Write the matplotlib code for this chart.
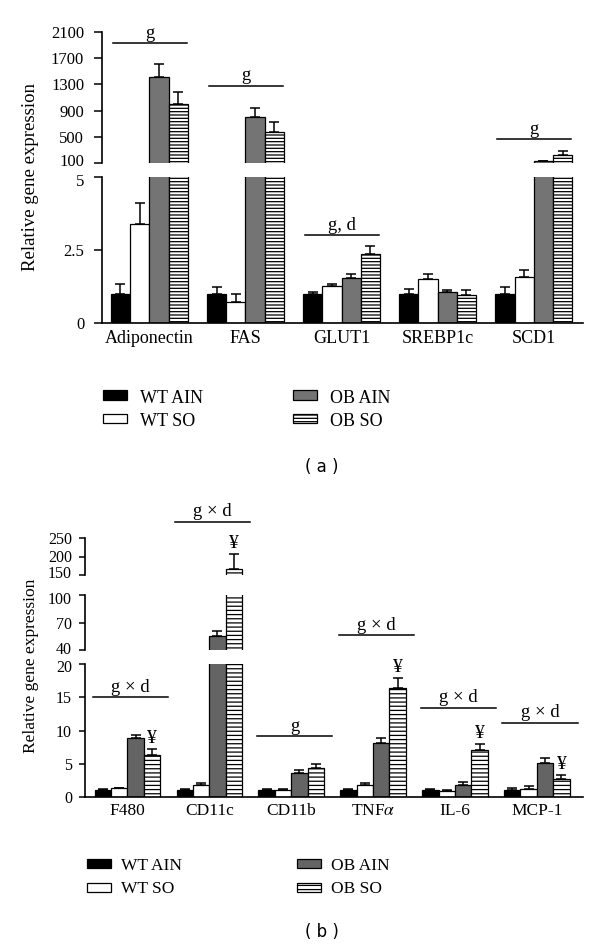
import numpy as np
import matplotlib
matplotlib.use("Agg")
import matplotlib.pyplot as plt
from matplotlib.patches import Rectangle
from matplotlib.ticker import FormatStrFormatter
from matplotlib.transforms import ScaledTranslation

plt.rcParams['font.family'] = ['Liberation Serif', 'DejaVu Serif']
plt.rcParams['mathtext.fontset'] = 'stix'
plt.rcParams['hatch.linewidth'] = 0.9

# ---- data ----
series = ["WT AIN", "WT SO", "OB AIN", "OB SO"]

# panel (a)
genes_a = ["Adiponectin", "FAS", "GLUT1", "SREBP1c", "SCD1"]
a_wt_ain = [1.0, 1.0, 1.0, 1.0, 1.0]
a_wt_so = [3.39, 0.71, 1.28, 1.50, 1.58]
a_ob_ain = [1410, 800, 1.53, 1.07, 125]
a_ob_so = [1000, 570, 2.36, 0.97, 215]
a_err_wt_ain = [0.32, 0.22, 0.07, 0.15, 0.22]
a_err_wt_so = [0.73, 0.27, 0.07, 0.18, 0.24]
a_err_ob_ain = [195, 145, 0.14, 0.07, 10]
a_err_ob_so = [180, 155, 0.29, 0.17, 75]
sig_a_group = [0, 1, 2, 4]
sig_a_text = ["g", "g", "g, d", "g"]
sig_a_y = [1930, 1280, 3.0, 460]

# panel (b)
genes_b = ["F480", "CD11c", "CD11b", r"TNF$\alpha$", "IL-6", "MCP-1"]
b_wt_ain = [1.05, 1.0, 1.05, 1.05, 1.05, 1.05]
b_wt_so = [1.3, 1.76, 1.1, 1.76, 0.9, 1.26]
b_ob_ain = [8.9, 55.3, 3.68, 8.16, 1.76, 5.04]
b_ob_so = [6.3, 166, 4.38, 16.4, 7.05, 2.77]
b_err_wt_ain = [0.1, 0.15, 0.1, 0.15, 0.1, 0.3]
b_err_wt_so = [0.1, 0.35, 0.1, 0.35, 0.2, 0.35]
b_err_ob_ain = [0.4, 5.1, 0.4, 0.65, 0.5, 0.85]
b_err_ob_so = [0.9, 41, 0.56, 1.5, 0.9, 0.6]
yen_b = [True, True, False, True, True, True]
sig_b_text = ["g × d", "g × d", "g", "g × d", "g × d", "g × d"]
sig_b_y = [15.0, 294, 9.1, 56.4, 13.45, 11.2]

W, H = 600, 947
fig = plt.figure(figsize=(W / 100, H / 100), dpi=100)


def px_axes(x0, x1, ytop, ybot):
    return fig.add_axes([x0 / W, 1 - ybot / H, (x1 - x0) / W, (ybot - ytop) / H])


def axis_for(axes, lims, v):
    for ax, (lo, hi) in zip(axes, lims):
        if lo <= v <= hi:
            return ax
    return axes[0]


def nudge_label(ax, idx, dy_px):
    # move one y tick label a little, so labels at the axis break do not collide
    lab = ax.yaxis.get_major_ticks()[idx].label1
    lab.set_transform(lab.get_transform() + ScaledTranslation(0, dy_px / 100, fig.dpi_scale_trans))


def draw_panel(axes, lims, ticks, genes, means, errs, gray, hatch, xlim,
               tick_fs, tick_len, tick_pad, label_fs, label_pad):
    n = len(genes)
    colors = ["black", "white", gray, "white"]
    hatches = [None, None, None, hatch]
    for k, ax in enumerate(axes):
        for j in range(4):
            x = np.arange(n) * 5 + j
            ax.bar(x, means[j], width=1, align="edge", color=colors[j],
                   edgecolor="black", linewidth=0.9, hatch=hatches[j])
            ax.errorbar(x + 0.5, means[j], yerr=[np.zeros(n), errs[j]], fmt="none",
                        ecolor="black", elinewidth=1.1, capsize=3.5, capthick=1.1)
        ax.set_xlim(*xlim)
        ax.set_ylim(*lims[k])
        ax.set_yticks(ticks[k])
        ax.yaxis.set_major_formatter(FormatStrFormatter("%g"))
        ax.tick_params(axis="y", direction="out", length=tick_len, width=1.1,
                       labelsize=tick_fs, pad=tick_pad)
        for s in ["top", "right"]:
            ax.spines[s].set_visible(False)
        ax.spines["left"].set_linewidth(1.2)
        ax.spines["bottom"].set_linewidth(1.2)
        ax.patch.set_alpha(0)
        if k < len(axes) - 1:
            ax.spines["bottom"].set_visible(False)
            ax.set_xticks([])
        else:
            ax.set_xticks(np.arange(n) * 5 + 2)
            ax.set_xticklabels(genes, fontsize=label_fs)
            ax.tick_params(axis="x", length=0, pad=label_pad)
    for k in range(len(axes) - 1):
        nudge_label(axes[k], 0, 2.5)
        nudge_label(axes[k + 1], -1, -2.5)


def draw_sig(axes, lims, groups, texts, ys, x0, x1, fs):
    for g, t, y in zip(groups, texts, ys):
        ax = axis_for(axes, lims, y)
        xs = [g * 5 + x0, g * 5 + x1]
        ax.plot(xs, [y, y], color="black", lw=1.1, clip_on=False)
        ax.annotate(t, xy=(sum(xs) / 2, y), xytext=(0, 1), textcoords="offset points",
                    ha="center", va="bottom", fontsize=fs, annotation_clip=False)


def draw_legend(xcols, rows, text_dx, baselines, gray, hatch, fs):
    colors = ["black", "white", gray, "white"]
    hatches = [None, None, None, hatch]
    for j, name in enumerate(series):
        col, row = j // 2, j % 2
        x, yc = xcols[col], rows[row]
        fig.patches.append(Rectangle((x / W, 1 - (yc + 4.5) / H), 24 / W, 9 / H,
                                     transform=fig.transFigure, facecolor=colors[j],
                                     edgecolor="black", lw=0.9, hatch=hatches[j]))
        fig.text((x + 24 + text_dx) / W, 1 - baselines[row] / H, name,
                 va="baseline", ha="left", fontsize=fs)


# ---- panel (a) ----
lims_a = [(100, 2100), (0, 5)]
ticks_a = [[100, 500, 900, 1300, 1700, 2100], [0, 2.5, 5]]
axes_a = [px_axes(102, 583, 32, 163), px_axes(102, 583, 177, 323)]
draw_panel(axes_a, lims_a, ticks_a, genes_a,
           [a_wt_ain, a_wt_so, a_ob_ain, a_ob_so],
           [a_err_wt_ain, a_err_wt_so, a_err_ob_ain, a_err_ob_so],
           "#747474", "-----", (-0.46, 24.56), 12, 5.8, 7, 13, 5)
draw_sig(axes_a, lims_a, sig_a_group, sig_a_text, sig_a_y, 0.1, 3.95, 13.5)
fig.text(31 / W, 1 - 177 / H, "Relative gene expression", rotation=90,
         ha="center", va="center", fontsize=13.5)
draw_legend([103, 293], [395, 418.5], 13, [403, 426], "#747474", "-----", 13)
fig.text(322 / W, 1 - 467 / H, "( a )", ha="center", va="center",
         fontsize=12, family="DejaVu Sans")

# ---- panel (b) ----
lims_b = [(150, 250), (40, 100), (0, 20)]
ticks_b = [[150, 200, 250], [40, 70, 100], [0, 5, 10, 15, 20]]
axes_b = [px_axes(85, 583, 538, 575), px_axes(85, 583, 595, 650),
          px_axes(85, 583, 664, 797)]
draw_panel(axes_b, lims_b, ticks_b, genes_b,
           [b_wt_ain, b_wt_so, b_ob_ain, b_ob_so],
           [b_err_wt_ain, b_err_wt_so, b_err_ob_ain, b_err_ob_so],
           "#646464", "----", (-0.59, 29.82), 11.5, 4.3, 5, 12.5, 4)
draw_sig(axes_b, lims_b, range(len(genes_b)), sig_b_text, sig_b_y, -0.1, 4.5, 13.5)
for i, flag in enumerate(yen_b):
    if flag:
        top = b_ob_so[i] + b_err_ob_so[i]
        ax = axis_for(axes_b, lims_b, top)
        ax.annotate("¥", xy=(i * 5 + 3.5, top), xytext=(0, 1.5), textcoords="offset points",
                    ha="center", va="bottom", fontsize=14, annotation_clip=False)
fig.text(31 / W, 1 - 666 / H, "Relative gene expression", rotation=90,
         ha="center", va="center", fontsize=12.5)
draw_legend([87, 297], [863.5, 887], 10, [870, 893], "#646464", "----", 12.5)
fig.text(322 / W, 1 - 932 / H, "( b )", ha="center", va="center",
         fontsize=12, family="DejaVu Sans")

fig.savefig("out.png", dpi=100)
